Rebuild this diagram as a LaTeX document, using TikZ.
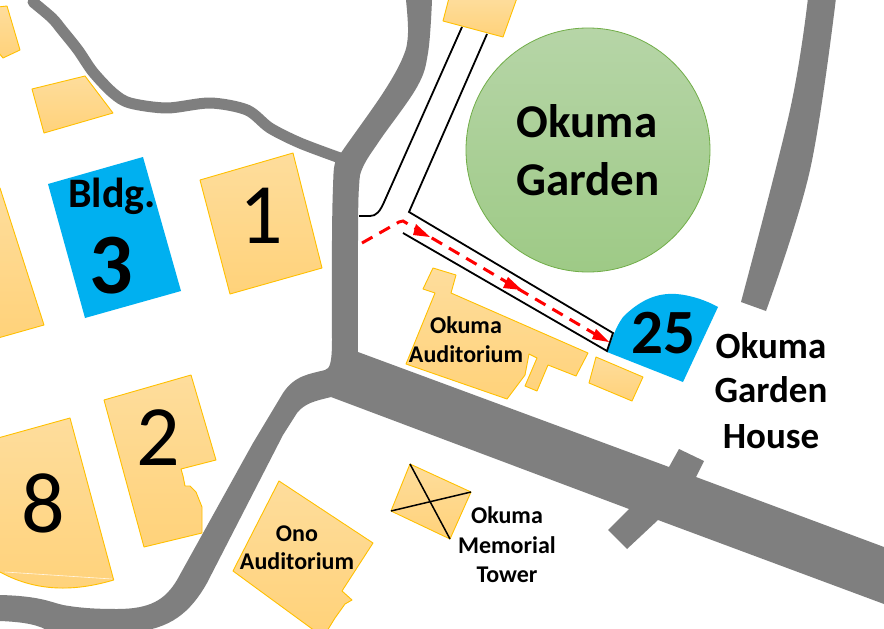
\documentclass[tikz,border=0pt]{standalone}
\usepackage{fontspec}
\setmainfont{Carlito}
\definecolor{roadgray}{HTML}{7F7F7F}
\definecolor{bldgtop}{HTML}{FEDD9C}
\definecolor{bldgbot}{HTML}{FFD27A}
\definecolor{bldgedge}{HTML}{FFC000}
\definecolor{hlblue}{HTML}{00B0F0}
\definecolor{gardentop}{HTML}{B6D5A7}
\definecolor{gardenbot}{HTML}{9ECA86}
\definecolor{gardenedge}{HTML}{70AD47}
\tikzset{
  bldg/.style={top color=bldgtop,bottom color=bldgbot,draw=bldgedge,line width=0.9pt,line join=round},
  hl/.style={fill=hlblue},
  road/.style={fill=roadgray},
  pathline/.style={draw=black,line width=1.8pt,line join=miter},
  routeline/.style={draw=red,line width=3pt,dash pattern=on 12pt off 8pt},
  routehead/.style={fill=red},
  bigbold/.style={font=\fontsize{47}{47}\selectfont\bfseries,anchor=base,inner sep=0pt},
  midbold/.style={font=\fontsize{37}{37}\selectfont\bfseries,anchor=base,inner sep=0pt},
  smallbold/.style={font=\fontsize{24}{24}\selectfont\bfseries,anchor=base,inner sep=0pt},
  numreg/.style={font=\fontsize{86}{86}\selectfont,anchor=base,inner sep=0pt},
  numbold/.style={font=\fontsize{86}{86}\selectfont\bfseries,anchor=base,inner sep=0pt},
}
\begin{document}
\begin{tikzpicture}[x=1pt,y=-1pt]
\useasboundingbox (0,0) rectangle (884,629);
\clip (0,0) rectangle (884,629);
\fill[white] (0,0) rectangle (884,629);
% thin curved road
\draw[roadgray,line width=11pt,line cap=round,line join=round] plot[smooth,tension=.5] coordinates
 {(33,2) (52,18) (62,30) (78,50) (93,72) (113,93) (130,103) (167,108) (210,103) (247,110) (270,128) (300,143) (340,158)};
% vertical and south-west road
\fill[road] (406,-2) -- (432,-2) -- plot[smooth,tension=.6] coordinates {(432,0) (428,53) (417,87) (380,140) (363,167) (359,187) (358,240) (358,360)}
 -- (331,397) .. controls (315,401) and (305,403) .. (297,413) -- (283,435) -- (207,583) .. controls (190,613) and (170,629) .. (133,632)
 -- (50,632) .. controls (40,625) and (25,622) .. (0,621) -- (-2,621) -- (-2,595) -- (0,595)
 .. controls (40,596) and (50,602) .. (63,605) .. controls (80,608) and (95,609) .. (117,609) .. controls (150,609) and (165,600) .. (177,580)
 -- (253,443) -- (283,393) .. controls (295,375) and (310,374) .. (325,370) .. controls (330,369) and (332,362) .. (332,340)
 -- plot[smooth,tension=.6] coordinates {(332,340) (332,240) (333,187) (335,163) (343,150) (383,93) (403,57) (408,33) (406,0)} -- cycle;
% main road with stubs
\fill[road] (358,352) -- (669,467) -- (679,449) -- (704,461) -- (696,477) -- (884,547) -- (884,604)
 -- (658,520) -- (627,549) -- (608,530) -- (629,509) -- (331,397) -- (340,370) -- cycle;
% north-east road
\fill[road] plot[smooth,tension=.6] coordinates {(808,-2) (790,110) (741,302)} -- (766,311)
 -- plot[smooth,tension=.6] coordinates {(766,311) (810,170) (836,-2)} -- cycle;
% garden
\draw[draw=gardenedge,line width=0.8pt,top color=gardentop,bottom color=gardenbot] (588,150) circle[radius=122];
% buildings
\path[bldg] (-2,7) -- (7,6) -- (20,50) -- (3,58) -- (-2,52) -- cycle;
\path[bldg] (32,89) -- (85,76) -- (113,113) -- (44,133) -- cycle;
\path[bldg] (200,180) -- (293,153) -- (322,268) -- (230,294) -- cycle;
\path[bldg] (-2,188) -- (0,188) -- (44,325) -- (-2,338) -- cycle;
\path[bldg] (-2,438) -- (70,418) -- (113.7,580) .. controls (80,590) and (40,594) .. (0,572) -- (-2,572) -- cycle;
\draw[white,line width=0.6pt,opacity=.8] (5,572) -- (112,579);
\path[bldg] (104,400) -- (191,375) -- (216,460) -- (181,469) -- (183,476) -- (185,486) -- (190,486) -- (196,492) -- (202,507) -- (202,533) -- (144,547) -- cycle;
\path[bldg] (279,481) -- (373,543) -- (342,591) -- (352,600) -- (345,604) -- (335,618) -- (327,631) -- (315,631) -- (233,571) -- cycle;
\path[bldg] (410,464) -- (471,492) -- (450,539) -- (391,511) -- cycle;
\path[bldg] (433,268) -- (456,275) -- (451,293) -- (588,353) -- (576,376) -- (548,365) -- (537,391) -- (525,386) -- (537,358) -- (529,354) -- (525,375) -- (507,399) -- (406,364) -- (435,293) -- (423,289) -- cycle;
\path[bldg] (596,357) -- (643,377) -- (632,401) -- (589,383) -- cycle;
\path[bldg] (449,-2) -- (443,21) -- (503,37) -- (517,-2) -- cycle;
% highlighted buildings
\path[hl] (48,184) -- (143,157) -- (181,291) -- (85,318) -- cycle;
\path[hl] (607,352) -- (683,382) -- (718,307) .. controls (700,297) and (680,293) .. (668,294) .. controls (650,295) and (635,305) .. (623,317) .. controls (615,328) and (612,340) .. (607,352) -- cycle;
% tower cross
\draw[black,line width=1.5pt] (410,464) -- (450,539);
\draw[black,line width=1.5pt] (391,511) -- (471,492);
% walkway
\draw[pathline] (462,27) -- (385,200) .. controls (380,212) and (376,216) .. (370,216) -- (359,216);
\draw[pathline] (487,34) -- (409,212) -- (613,333) -- (607,351) -- (403,233);
% route
\draw[routeline] (362,243) -- (399,222) -- (403,221) -- (600,337);
\path[routehead] (430,237) -- (416,224) -- (413,235) -- cycle;
\path[routehead] (522,290) -- (508,277) -- (503,288) -- cycle;
\path[routehead] (609,342) -- (596,329) -- (592,339) -- cycle;
% labels
\node[bigbold] (gardenA) at (587,137) {Okuma};
\node[bigbold] (gardenB) at (588,195) {Garden};
\node[midbold,font=\fontsize{42}{42}\selectfont\bfseries] (bldgword) at (112,207) {Bldg.};
\node[numbold] (three) at (111,293) {3};
\node[numreg] (one) at (261,243) {1};
\node[numreg] (two) at (158,465) {2};
\node[numreg] (eight) at (43,532) {8};
\node[numbold,font=\fontsize{63}{63}\selectfont\bfseries] (twentyfive) at (663,353) {25};
\node[midbold] (houseA) at (771,358) {Okuma};
\node[midbold] (houseB) at (771,402) {Garden};
\node[midbold] (houseC) at (771,448) {House};
\node[smallbold] (audA) at (466,333) {Okuma};
\node[smallbold] (audB) at (466,362) {Auditorium};
\node[smallbold] (onoA) at (297,541) {Ono};
\node[smallbold] (onoB) at (297,569) {Auditorium};
\node[smallbold] (towerA) at (507,523) {Okuma};
\node[smallbold] (towerB) at (507,553) {Memorial};
\node[smallbold] (towerC) at (507,582) {Tower};
\end{tikzpicture}
\end{document}
